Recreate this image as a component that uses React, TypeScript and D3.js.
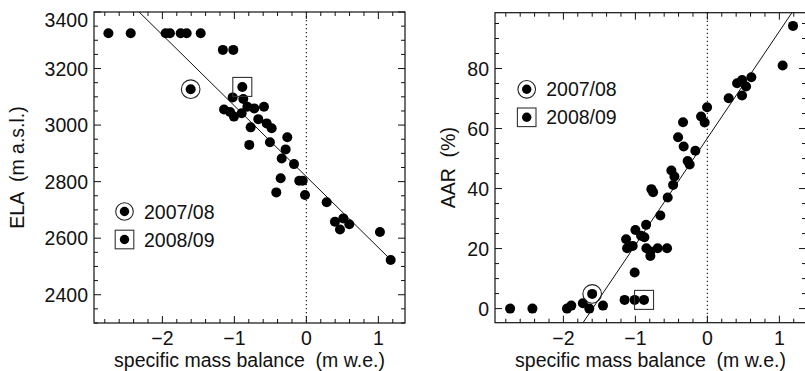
import React from "react";
import * as d3 from "d3";

// ---------- data ----------
const xTicks = [-2, -1, 0, 1];
const elaTicks = [2400, 2600, 2800, 3000, 3200, 3400];
const aarTicks = [0, 20, 40, 60, 80];
const legendLabels = ["2007/08", "2008/09"];

// ELA panel
const elaBalance = [
  -2.75, -2.44, -1.955, -1.895, -1.746, -1.663, -1.468,
  -1.16, -1.015,
  -1.024, -0.876, -1.144, -1.006, -0.899, -1.06, -0.82, -0.724, -0.589, -0.668,
  -0.774, -0.551, -0.482, -0.793, -0.506, -0.265, -0.288, -0.343, -0.172,
  -0.357, -0.418, -0.099, -0.051, -0.019, 0.282, 0.397, 0.467, 0.513, 0.596,
  1.022, 1.171,
];
const elaValues = [
  3325, 3325, 3325, 3325, 3325, 3325, 3325,
  3266, 3266,
  3098, 3092, 3055, 3030, 3042, 3046, 3065, 3059, 3065, 3021,
  2992, 3006, 2989, 2930, 2939, 2957, 2914, 2882, 2862,
  2812, 2762, 2803, 2803, 2753, 2727, 2658, 2631, 2670, 2649,
  2622, 2523,
];
const elaYear0708 = [-1.607, 3127];
const elaYear0809 = [-0.89, 3135];
const elaFit = [2817.6, -250.7]; // intercept, slope

// AAR panel
const aarBalance = [
  -2.74, -2.43, -1.95, -1.89, -1.73, -1.64, -1.45, -1.15, -1.01,
  -1.01, -0.167, -0.274, -0.5, -0.458, -0.476, -0.778, -0.754, -0.551, -0.653,
  -0.851, -1.0, -0.921, -0.875, -1.129, -1.115, -1.0375, -0.847, -0.792, -0.792,
  -0.69, -0.56, -0.407, -0.338, -0.329, -0.246, -0.0875, -0.0375, -0.004,
  0.296, 0.4125, 0.482, 0.5375, 0.482, 0.611, 1.046, 1.19,
];
const aarValues = [
  0, 0, 0, 1, 1.8, 0, 1, 2.9, 2.9,
  12, 52.6, 49.2, 46, 44, 41.2, 39.8, 38.8, 37, 31,
  27.9, 26.2, 24.3, 23.8, 23.1, 20.1, 20.9, 20.1, 19, 17.5,
  20.1, 20.1, 57.1, 62.1, 54, 48, 64, 62, 67.1,
  70.1, 75.1, 76.2, 74, 71, 77.1, 81, 94.2,
];
const aarYear0708 = [-1.6, 4.9];
const aarYear0809 = [-0.88, 2.9];
const aarFit = [56.8, 35.6];

const FONT = "'Liberation Sans', Arial, Helvetica, sans-serif";
const FS = 19.5;
const fmt = (v: number) => (v < 0 ? "\u2212" + Math.abs(v) : String(v));

type PanelProps = {
  id: string;
  left: number;
  right: number;
  top: number;
  bottom: number;
  yDomain: [number, number];
  yTicks: number[];
  yMinorStep: number;
  xs: number[];
  ys: number[];
  p0708: number[];
  p0809: number[];
  fit: number[];
  yLabel: string;
  yLabelX: number;
  legendX: number;
  legendY: number;
};

function Panel(p: PanelProps) {
  const x = d3.scaleLinear().domain([-2.95, 1.37]).range([p.left, p.right]);
  const y = d3.scaleLinear().domain(p.yDomain).range([p.bottom, p.top]);
  const xMinor = d3.range(-2.8, 1.3, 0.2).map((v) => Math.round(v * 10) / 10).filter((v) => !xTicks.includes(v));
  const yMinor = d3
    .range(Math.ceil(p.yDomain[0] / p.yMinorStep) * p.yMinorStep, p.yDomain[1], p.yMinorStep)
    .filter((v) => !p.yTicks.includes(v));
  const major = 7;
  const minor = 4;
  const all = p.xs.concat([p.p0708[0], p.p0809[0]]);
  const bx = d3.extent(all) as [number, number];
  const line = d3
    .line<number>()
    .x((b) => x(b))
    .y((b) => y(p.fit[0] + p.fit[1] * b));
  const cx = (p.left + p.right) / 2;
  const cy = (p.top + p.bottom) / 2;
  const tickCol = "#111";
  return (
    <g>
      <defs>
        <clipPath id={p.id}>
          <rect x={p.left} y={p.top} width={p.right - p.left} height={p.bottom - p.top} />
        </clipPath>
      </defs>
      {/* zero line */}
      <line x1={x(0)} x2={x(0)} y1={p.top} y2={p.bottom} stroke="#222" strokeWidth={1.2} strokeDasharray="1.3 2.7" />
      {/* regression */}
      <path d={line(bx) || ""} stroke="#111" strokeWidth={1} fill="none" clipPath={`url(#${p.id})`} />
      {/* ticks */}
      {xTicks.map((v) => (
        <g key={"xt" + v}>
          <line x1={x(v)} x2={x(v)} y1={p.bottom} y2={p.bottom - major} stroke={tickCol} />
          <line x1={x(v)} x2={x(v)} y1={p.top} y2={p.top + major} stroke={tickCol} />
          <text x={x(v)} y={345} textAnchor="middle" fontSize={FS} fontFamily={FONT} fill="#111">
            {fmt(v)}
          </text>
        </g>
      ))}
      {xMinor.map((v) => (
        <g key={"xm" + v}>
          <line x1={x(v)} x2={x(v)} y1={p.bottom} y2={p.bottom - minor} stroke={tickCol} />
          <line x1={x(v)} x2={x(v)} y1={p.top} y2={p.top + minor} stroke={tickCol} />
        </g>
      ))}
      {p.yTicks.map((v) => (
        <g key={"yt" + v}>
          <line x1={p.left} x2={p.left + major} y1={y(v)} y2={y(v)} stroke={tickCol} />
          <line x1={p.right} x2={p.right - major} y1={y(v)} y2={y(v)} stroke={tickCol} />
          <text
            x={p.left - 6}
            y={Math.max(y(v), p.top + 8) + 7}
            textAnchor="end"
            fontSize={FS}
            fontFamily={FONT}
            fill="#111"
          >
            {fmt(v)}
          </text>
        </g>
      ))}
      {yMinor.map((v) => (
        <g key={"ym" + v}>
          <line x1={p.left} x2={p.left + minor} y1={y(v)} y2={y(v)} stroke={tickCol} />
          <line x1={p.right} x2={p.right - minor} y1={y(v)} y2={y(v)} stroke={tickCol} />
        </g>
      ))}
      {/* box */}
      <rect x={p.left} y={p.top} width={p.right - p.left} height={p.bottom - p.top} fill="none" stroke="#111" strokeWidth={1.2} />
      {/* points */}
      {p.xs.map((b, i) => (
        <circle key={"pt" + i} cx={x(b)} cy={y(p.ys[i])} r={5} fill="#000" />
      ))}
      <circle cx={x(p.p0708[0])} cy={y(p.p0708[1])} r={5} fill="#000" />
      <circle cx={x(p.p0708[0])} cy={y(p.p0708[1])} r={9.3} fill="none" stroke="#222" strokeWidth={1.1} />
      <circle cx={x(p.p0809[0])} cy={y(p.p0809[1])} r={5} fill="#000" />
      <rect x={x(p.p0809[0]) - 9.5} y={y(p.p0809[1]) - 9.5} width={19} height={19} fill="none" stroke="#333" strokeWidth={1.1} />
      {/* legend */}
      <circle cx={p.legendX} cy={p.legendY} r={4.7} fill="#000" />
      <circle cx={p.legendX} cy={p.legendY} r={8.8} fill="none" stroke="#222" strokeWidth={1.1} />
      <text x={p.legendX + 19.5} y={p.legendY + 7} fontSize={FS} fontFamily={FONT} fill="#111">
        {legendLabels[0]}
      </text>
      <circle cx={p.legendX} cy={p.legendY + 28} r={4.7} fill="#000" />
      <rect x={p.legendX - 9.3} y={p.legendY + 28 - 9.3} width={18.6} height={18.6} fill="none" stroke="#333" strokeWidth={1.1} />
      <text x={p.legendX + 19.5} y={p.legendY + 35} fontSize={FS} fontFamily={FONT} fill="#111">
        {legendLabels[1]}
      </text>
      {/* axis titles */}
      <text x={cx} y={367} textAnchor="middle" fontSize={FS} fontFamily={FONT} fill="#111" style={{ whiteSpace: "pre" }}>
        {"specific mass balance  (m w.e.)"}
      </text>
      <text
        transform={`translate(${p.yLabelX},${cy}) rotate(-90)`}
        textAnchor="middle"
        fontSize={FS}
        fontFamily={FONT}
        fill="#111"
        style={{ whiteSpace: "pre" }}
      >
        {p.yLabel}
      </text>
    </g>
  );
}

export default function App() {
  return (
    <svg
      width={805}
      height={371}
      style={{ position: "absolute", left: 0, top: 0, background: "#fff" }}
      xmlns="http://www.w3.org/2000/svg"
    >
      <rect x={0} y={0} width={805} height={371} fill="#fff" />
      <Panel
        id="clipA"
        left={94}
        right={405}
        top={12}
        bottom={323}
        yDomain={[2300, 3400]}
        yTicks={elaTicks}
        yMinorStep={50}
        xs={elaBalance}
        ys={elaValues}
        p0708={elaYear0708}
        p0809={elaYear0809}
        fit={elaFit}
        yLabel={"ELA  (m a.s.l.)"}
        yLabelX={24}
        legendX={124.5}
        legendY={211.5}
      />
      <Panel
        id="clipB"
        left={495}
        right={806}
        top={12.7}
        bottom={322.7}
        yDomain={[-4.7, 98.6]}
        yTicks={aarTicks}
        yMinorStep={5}
        xs={aarBalance}
        ys={aarValues}
        p0708={aarYear0708}
        p0809={aarYear0809}
        fit={aarFit}
        yLabel={"AAR  (%)"}
        yLabelX={455}
        legendX={526.7}
        legendY={89.3}
      />
    </svg>
  );
}
